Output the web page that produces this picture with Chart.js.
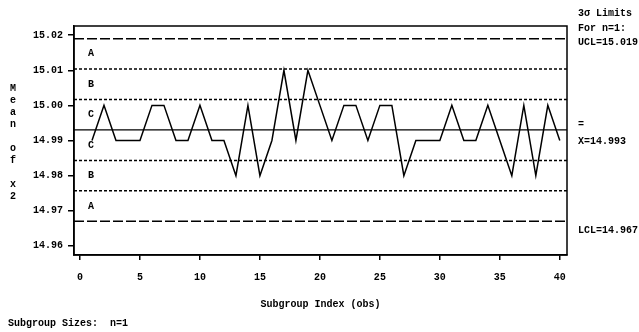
<!DOCTYPE html>
<html>
<head>
<meta charset="utf-8">
<script src="https://cdn.jsdelivr.net/npm/chart.js@4.4.0/dist/chart.umd.min.js"></script>
<style>
  body { margin: 0; background: #fff; }
  canvas { display: block; }
</style>
</head>
<body>
<canvas id="xChart" width="639" height="332"></canvas>
<script>
// subgroup index and measured values (n=1)
var subgroups = [1, 2, 3, 4, 5, 6, 7, 8, 9, 10, 11, 12, 13, 14, 15, 16, 17, 18, 19, 20,
                 21, 22, 23, 24, 25, 26, 27, 28, 29, 30, 31, 32, 33, 34, 35, 36, 37, 38, 39, 40];
var means = [14.99, 15.00, 14.99, 14.99, 14.99, 15.00, 15.00, 14.99, 14.99, 15.00,
             14.99, 14.99, 14.98, 15.00, 14.98, 14.99, 15.01, 14.99, 15.01, 15.00,
             14.99, 15.00, 15.00, 14.99, 15.00, 15.00, 14.98, 14.99, 14.99, 14.99,
             15.00, 14.99, 14.99, 15.00, 14.99, 14.98, 15.00, 14.98, 15.00, 14.99];

var xTicks = [0, 5, 10, 15, 20, 25, 30, 35, 40];
var yTicks = [14.96, 14.97, 14.98, 14.99, 15.00, 15.01, 15.02];

var UCL = 15.019;
var CL = 14.993;
var LCL = 14.967;
var sigma = (UCL - CL) / 3;

var monoFont = 'bold 10px "Liberation Mono", "DejaVu Sans Mono", monospace';

var points = [];
for (var i = 0; i < subgroups.length; i++) {
	points.push({x: subgroups[i], y: means[i]});
}

function hline(chart, value, dash, width) {
	var ctx = chart.ctx;
	var area = chart.chartArea;
	var y = chart.scales.y.getPixelForValue(value);
	ctx.save();
	ctx.strokeStyle = '#000';
	ctx.lineWidth = width;
	ctx.setLineDash(dash);
	ctx.beginPath();
	ctx.moveTo(area.left, y);
	ctx.lineTo(area.right, y);
	ctx.stroke();
	ctx.restore();
}

var controlPlugin = {
	id: 'controlLimits',
	beforeDatasetsDraw: function(chart) {
		var ctx = chart.ctx;
		var area = chart.chartArea;
		var ys = chart.scales.y;

		hline(chart, UCL, [10, 3], 1.5);
		hline(chart, LCL, [10, 3], 1.5);
		hline(chart, CL + 2 * sigma, [3, 2], 1.5);
		hline(chart, CL + sigma, [3, 2], 1.5);
		hline(chart, CL - sigma, [3, 2], 1.5);
		hline(chart, CL - 2 * sigma, [3, 2], 1.5);
		hline(chart, CL, [], 1.3);

		// frame
		ctx.save();
		ctx.strokeStyle = '#000';
		ctx.lineWidth = 1.5;
		ctx.strokeRect(area.left, area.top, area.right - area.left, area.bottom - area.top);
		ctx.restore();

		// zone letters
		ctx.save();
		ctx.font = monoFont;
		ctx.fillStyle = '#000';
		ctx.textAlign = 'center';
		ctx.textBaseline = 'middle';
		var zx = area.left + 17;
		var zones = [
			['A', (UCL + CL + 2 * sigma) / 2],
			['B', CL + 1.5 * sigma],
			['C', CL + 0.5 * sigma],
			['C', CL - 0.5 * sigma],
			['B', CL - 1.5 * sigma],
			['A', (LCL + CL - 2 * sigma) / 2]
		];
		zones.forEach(function(z) {
			ctx.fillText(z[0], zx, ys.getPixelForValue(z[1]));
		});
		ctx.restore();
	},
	afterDraw: function(chart) {
		var ctx = chart.ctx;
		var area = chart.chartArea;
		var ys = chart.scales.y;
		ctx.save();
		ctx.font = monoFont;
		ctx.fillStyle = '#000';
		ctx.textBaseline = 'middle';
		ctx.textAlign = 'left';

		var rx = area.right + 11;
		ctx.fillText('3\u03C3 Limits', rx, 13);
		ctx.fillText('For n=1:', rx, 28);
		ctx.fillText('UCL=15.019', rx, ys.getPixelForValue(UCL) + 4);
		ctx.fillText('=', rx, ys.getPixelForValue(CL) - 5);
		ctx.fillText('X=14.993', rx, ys.getPixelForValue(CL) + 12);
		ctx.fillText('LCL=14.967', rx, ys.getPixelForValue(LCL) + 9);

		// stacked y title
		ctx.textAlign = 'center';
		var letters = ['M', 'e', 'a', 'n', '', 'o', 'f', '', 'x', '2'];
		for (var k = 0; k < letters.length; k++) {
			ctx.fillText(letters[k], 13, 88 + k * 12);
		}

		ctx.textAlign = 'left';
		ctx.fillText('Subgroup Sizes:  n=1', 8, 323);
		ctx.restore();
	}
};

var ctx = document.getElementById('xChart');

var xChart = new Chart(ctx, {
	type: 'line',
	data: {
		datasets: [
			{
				label: 'Mean of x2',
				data: points,
				borderColor: '#000',
				borderWidth: 1.5,
				pointRadius: 0,
				tension: 0,
				fill: false
			}
		]
	},
	options: {
		responsive: false,
		animation: false,
		devicePixelRatio: 1,
		layout: {padding: {left: 0, right: 72, top: 26, bottom: 0}},
		plugins: {
			legend: {display: false},
			tooltip: {enabled: false}
		},
		scales: {
			x: {
				type: 'linear',
				min: -0.5,
				max: 40.6,
				afterBuildTicks: function(scale) {
					scale.ticks = xTicks.map(function(v) { return {value: v}; });
				},
				afterFit: function(scale) { scale.height = 77; },
				ticks: {
					color: '#000',
					font: {family: '"Liberation Mono", monospace', size: 10, weight: 'bold'},
					padding: 11,
					maxRotation: 0
				},
				grid: {drawOnChartArea: false, drawTicks: true, tickLength: 5, color: '#000', lineWidth: 1.5},
				border: {color: '#000', width: 1.5},
				title: {
					display: true,
					text: 'Subgroup Index (obs)',
					color: '#000',
					font: {family: '"Liberation Mono", monospace', size: 10, weight: 'bold'},
					padding: {top: 0, bottom: 22}
				}
			},
			y: {
				min: 14.9574,
				max: 15.0226,
				afterBuildTicks: function(scale) {
					scale.ticks = yTicks.map(function(v) { return {value: v}; });
				},
				afterFit: function(scale) { scale.width = 74; },
				ticks: {
					color: '#000',
					font: {family: '"Liberation Mono", monospace', size: 10, weight: 'bold'},
					padding: 5,
					callback: function(value) { return value.toFixed(2); }
				},
				grid: {drawOnChartArea: false, drawTicks: true, tickLength: 6, color: '#000', lineWidth: 1.5},
				border: {color: '#000', width: 1.5}
			}
		}
	},
	plugins: [controlPlugin]
});
</script>
</body>
</html>
